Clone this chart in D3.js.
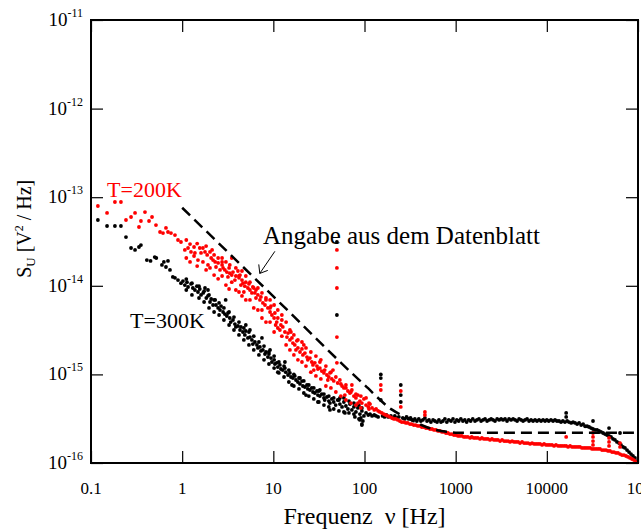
<!DOCTYPE html>
<html>
<head>
<meta charset="utf-8">
<script src="https://cdn.jsdelivr.net/npm/d3@7"></script>
<style>
  body { margin: 0; background: #fff; }
</style>
</head>
<body>
<svg id="chart" width="641" height="532"></svg>
<script>
'use strict';

// axis ticks
const xTickValues = [0.1, 1, 10, 100, 1000, 10000, 100000];
const xTickLabels = ['0.1', '1', '10', '100', '1000', '10000', '10^5'];
const yTickValues = [1e-16, 1e-15, 1e-14, 1e-13, 1e-12, 1e-11];
const yTickExps = ['-16', '-15', '-14', '-13', '-12', '-11'];

// datasheet curve [f Hz, S V^2/Hz]
const datasheet = [
  [1, 7.6e-14], [10, 7.6e-15], [100, 7.6e-16], [200, 4.0e-16], [300, 3.2e-16],
  [500, 2.5e-16], [800, 2.25e-16], [1000, 2.2e-16], [100000, 2.2e-16]
];

// T = 300 K measured spectrum [f Hz, S V^2/Hz]
const t300 = [
  [0.119, 5.53e-14], [0.150, 4.73e-14], [0.183, 4.73e-14], [0.213, 4.73e-14], [0.242, 3.55e-14],
  [0.275, 2.67e-14], [0.304, 2.54e-14], [0.336, 2.74e-14], [0.353, 2.88e-14], [0.41, 1.95e-14],
  [0.45, 1.91e-14], [0.50, 2.11e-14], [0.52, 2.06e-14], [0.60, 1.72e-14], [0.63, 1.86e-14],
  [0.664, 1.63e-14], [0.699, 1.91e-14], [0.735, 1.51e-14], [0.79, 1.26e-14], [0.834, 1.23e-14],
  [0.90, 1.16e-14], [0.97, 1.07e-14], [1.02, 1.13e-14], [1.07, 1.02e-14], [1.13, 1.10e-14],
  [1.11, 1.19e-14], [1.11, 8.97e-15], [1.28, 1.07e-14], [1.28, 7.88e-15], [1.53, 9.9e-15],
  [1.53, 7.28e-15], [1.74, 8.7e-15], [1.74, 6.56e-15], [1.97, 7.88e-15], [1.97, 5.62e-15],
  [2.24, 6.92e-15], [2.24, 5.06e-15], [2.54, 6.40e-15], [2.54, 4.68e-15], [2.87, 5.62e-15],
  [2.87, 4.11e-15], [3.27, 5.06e-15], [3.27, 3.61e-15], [3.70, 4.44e-15], [3.70, 3.17e-15],
  [4.2, 3.9e-15], [4.2, 2.79e-15], [4.75, 3.34e-15], [4.75, 2.45e-15], [5.4, 3.01e-15],
  [5.4, 2.15e-15], [6.1, 2.7e-15], [6.1, 1.89e-15], [6.95, 2.32e-15], [6.95, 1.66e-15],
  [7.9, 2.09e-15], [7.9, 1.46e-15], [8.95, 1.79e-15], [8.95, 1.31e-15], [10.2, 1.61e-15],
  [10.2, 1.18e-15], [11.5, 1.38e-15], [11.5, 1.04e-15], [13.1, 1.24e-15], [13.1, 9.35e-16],
  [14.8, 1.12e-15], [14.8, 8.21e-16], [16.8, 9.97e-16], [16.8, 7.4e-16], [19.1, 9.11e-16],
  [19.1, 6.85e-16], [21.6, 8.43e-16], [21.6, 6.17e-16], [24.5, 7.59e-16], [24.5, 5.7e-16],
  [27.8, 7.03e-16], [27.8, 5.28e-16], [31.6, 6.5e-16], [31.6, 4.88e-16], [35.9, 6.0e-16],
  [35.9, 4.51e-16], [40.6, 5.7e-16], [40.6, 4.29e-16], [46.0, 5.42e-16], [46.0, 4.07e-16],
  [52.4, 5.14e-16], [52.4, 3.87e-16], [59.4, 5.42e-16], [59.4, 3.77e-16], [67.5, 5.0e-16],
  [67.5, 3.67e-16], [76.5, 4.75e-16], [76.5, 3.57e-16], [86.9, 4.51e-16], [86.9, 3.14e-16],
  [93.6, 4.18e-16], [93.6, 2.75e-16],
  [1.16, 9.69e-15], [1.25, 1.05e-14], [1.31, 9.44e-15], [1.38, 8.97e-15], [1.45, 9.9e-15],
  [1.49, 8.51e-15], [1.56, 9.2e-15], [1.61, 7.88e-15], [1.70, 8.30e-15], [1.78, 9.44e-15],
  [1.84, 7.28e-15], [1.92, 7.7e-15], [1.92, 8.97e-15], [2.02, 6.56e-15], [2.08, 7.1e-15],
  [2.18, 6.07e-15], [2.30, 6.92e-15], [2.35, 6.07e-15], [2.48, 5.62e-15], [2.60, 5.33e-15],
  [2.67, 5.9e-15], [2.81, 5.06e-15], [2.94, 4.8e-15], [3.0, 6.92e-15], [3.09, 4.56e-15],
  [3.18, 4.93e-15], [3.33, 4.33e-15], [3.41, 3.90e-15], [3.61, 4.11e-15], [3.79, 3.7e-15],
  [3.88, 3.43e-15], [4.09, 3.52e-15], [4.31, 3.17e-15], [4.41, 3.43e-15], [4.64, 3.01e-15],
  [4.87, 2.79e-15], [4.99, 3.09e-15], [4.99, 3.61e-15], [5.26, 2.58e-15], [5.54, 2.64e-15],
  [5.54, 3.17e-15], [5.82, 2.45e-15], [5.96, 2.2e-15], [6.28, 2.32e-15], [6.61, 2.15e-15],
  [6.77, 1.99e-15], [7.13, 2.04e-15], [7.31, 1.84e-15], [7.5, 2.58e-15], [7.68, 1.89e-15],
  [8.1, 1.7e-15], [8.30, 1.79e-15], [8.72, 1.57e-15], [8.95, 1.7e-15], [9.2, 1.89e-15],
  [9.42, 1.53e-15], [9.65, 1.38e-15], [10.2, 1.46e-15], [10.4, 1.31e-15], [10.9, 1.35e-15],
  [11.2, 1.21e-15], [11.2, 1.06e-15], [11.8, 1.28e-15], [12.1, 1.15e-15], [12.7, 1.12e-15],
  [13.4, 1.18e-15], [13.4, 1.38e-15], [13.7, 1.06e-15], [14.5, 9.85e-16], [15.2, 1.04e-15],
  [15.6, 9.35e-16], [16.0, 7.59e-16], [16.4, 9.11e-16], [17.2, 9.6e-16], [17.7, 8.65e-16],
  [18.6, 8.21e-16], [19.6, 7.8e-16], [19.6, 9.11e-16], [20.6, 8.4e-16], [21.1, 7.4e-16],
  [22.2, 7.21e-16], [22.8, 5.85e-16], [23.4, 7.59e-16], [23.9, 6.85e-16], [25.2, 6.67e-16],
  [26.4, 7.03e-16], [27.2, 6.33e-16], [28.5, 6.17e-16], [30.1, 6.5e-16], [30.8, 5.85e-16],
  [30.8, 4.88e-16], [32.4, 5.7e-16], [32.4, 6.67e-16], [34.0, 6.0e-16], [35.9, 5.42e-16],
  [36.6, 5.14e-16], [38.7, 5.56e-16], [40.6, 5.0e-16], [41.8, 4.75e-16], [41.8, 3.97e-16],
  [43.8, 5.28e-16], [46.0, 4.88e-16], [48.3, 4.51e-16], [49.8, 3.12e-14], [49.8, 4.68e-15],
  [50.8, 5.14e-16], [53.7, 4.63e-16], [53.7, 5.42e-16], [56.7, 4.29e-16], [59.4, 4.88e-16],
  [61, 3.67e-16], [62.5, 4.4e-16], [65.8, 4.07e-16], [69.2, 4.63e-16], [72.7, 3.97e-16],
  [76.5, 4.29e-16], [78.5, 3.31e-16], [80.5, 3.77e-16], [84.6, 4.18e-16], [89.1, 3.57e-16],
  [89.1, 3.06e-16], [91.2, 3.22e-16], [93.6, 3.87e-16], [93.6, 2.68e-16], [96.0, 2.98e-16],
  [98.5, 3.40e-16], [104, 3.67e-16], [110, 3.48e-16], [115, 3.57e-16], [121, 3.40e-16],
  [128, 3.48e-16], [134, 3.40e-16], [141, 3.31e-16], [151, 1.0e-15], [151, 9.1e-16],
  [151, 5.14e-16], [158, 3.40e-16], [166, 3.31e-16], [174, 3.48e-16], [182, 3.31e-16],
  [195, 3.40e-16], [205, 3.22e-16], [215, 3.40e-16], [227, 3.22e-16], [238, 3.31e-16],
  [250, 7.59e-16], [250, 5.85e-16], [250, 4.88e-16], [263, 3.22e-16], [277, 3.14e-16],
  [290, 3.31e-16], [305, 3.14e-16], [320, 3.22e-16], [335, 3.06e-16], [357, 3.14e-16],
  [375, 2.98e-16], [394, 3.14e-16], [415, 2.98e-16], [437, 3.06e-16], [460, 3.22e-16],
  [485, 2.98e-16], [510, 3.06e-16], [535, 2.90e-16], [565, 3.06e-16], [592, 2.98e-16],
  [625, 2.90e-16], [655, 3.06e-16], [690, 2.90e-16], [725, 2.98e-16], [762, 3.14e-16],
  [800, 2.90e-16], [840, 3.06e-16], [890, 2.98e-16], [935, 3.14e-16], [982, 2.90e-16],
  [1030, 3.06e-16], [1080, 2.98e-16], [1140, 3.14e-16], [1200, 2.98e-16], [1260, 3.06e-16],
  [1320, 2.90e-16], [1390, 3.06e-16], [1460, 2.98e-16], [1540, 3.14e-16], [1630, 2.98e-16],
  [1710, 3.06e-16], [1800, 3.14e-16], [1900, 2.98e-16], [2000, 3.06e-16], [2100, 3.14e-16],
  [2210, 2.98e-16], [2330, 3.06e-16], [2450, 3.14e-16], [2570, 3.06e-16], [2700, 2.98e-16],
  [2850, 3.14e-16], [3000, 3.06e-16], [3150, 3.14e-16], [3310, 3.06e-16], [3480, 3.14e-16],
  [3660, 2.98e-16], [3850, 3.14e-16], [4050, 3.06e-16], [4270, 3.14e-16], [4490, 3.06e-16],
  [4720, 2.98e-16], [4960, 3.14e-16], [5220, 3.06e-16], [5490, 2.98e-16], [5770, 3.06e-16],
  [6070, 3.14e-16], [6380, 2.98e-16], [6710, 3.06e-16], [7060, 2.98e-16], [7430, 3.06e-16],
  [7800, 2.98e-16], [8220, 3.06e-16], [8640, 2.98e-16], [9090, 3.06e-16], [9560, 2.98e-16],
  [10000, 3.06e-16], [10500, 2.98e-16], [11100, 3.06e-16], [11700, 2.98e-16], [12300, 3.06e-16],
  [12900, 2.98e-16], [13600, 2.98e-16], [14300, 2.90e-16], [15000, 2.98e-16], [15800, 2.90e-16],
  [16300, 3.67e-16], [16300, 3.31e-16], [16700, 2.98e-16], [17500, 2.90e-16], [18500, 2.83e-16],
  [19400, 2.90e-16], [20400, 2.83e-16], [21500, 2.75e-16], [22600, 2.83e-16], [23800, 2.68e-16],
  [25000, 2.75e-16], [26300, 2.6e-16], [27700, 2.6e-16], [29100, 2.55e-16], [30600, 2.48e-16],
  [32100, 2.98e-16], [32100, 2.42e-16], [33800, 2.36e-16], [35600, 2.36e-16], [37400, 2.30e-16],
  [39300, 2.24e-16], [41400, 2.18e-16], [43500, 2.12e-16], [45700, 2.07e-16], [48100, 2.48e-16],
  [48100, 2.02e-16], [50600, 1.97e-16], [53200, 1.87e-16], [55900, 1.82e-16], [58800, 1.73e-16],
  [61900, 1.68e-16], [63500, 2.18e-16], [65100, 1.60e-16], [68500, 1.52e-16], [72000, 1.48e-16],
  [75800, 1.40e-16], [79700, 1.33e-16], [83800, 1.26e-16], [88100, 1.20e-16], [92700, 1.14e-16],
  [97500, 1.05e-16]
];

// T = 200 K measured spectrum [f Hz, S V^2/Hz]
const t200 = [
  [0.119, 7.96e-14], [0.150, 6.64e-14], [0.183, 8.83e-14], [0.213, 8.83e-14], [0.242, 5.53e-14],
  [0.275, 5.98e-14], [0.304, 6.64e-14], [0.336, 4.61e-14], [0.353, 5.39e-14], [0.391, 6.8e-14],
  [0.433, 5.39e-14], [0.467, 5.98e-14], [0.516, 4.85e-14], [0.572, 4.05e-14], [0.616, 3.94e-14],
  [0.664, 4.5e-14], [0.699, 4.05e-14], [0.754, 3.94e-14], [0.834, 3.74e-14], [0.90, 3.29e-14],
  [0.97, 3.12e-14], [1.07, 2.54e-14], [1.16, 2.67e-14], [1.25, 2.41e-14], [1.38, 2.35e-14],
  [1.11, 3.29e-14], [1.11, 2.06e-14], [1.22, 2.96e-14], [1.22, 1.86e-14], [1.35, 2.74e-14],
  [1.35, 2.17e-14], [1.46, 3.0e-14], [1.46, 1.67e-14], [1.69, 1.86e-14], [1.69, 2.67e-14],
  [1.83, 2.81e-14], [1.83, 1.51e-14], [2.02, 1.59e-14], [2.02, 2.41e-14], [2.24, 1.32e-14],
  [2.24, 2.23e-14], [2.48, 2.06e-14], [2.48, 1.2e-14], [2.74, 1.29e-14], [2.74, 1.86e-14],
  [3.02, 1.02e-14], [3.02, 1.86e-14], [3.27, 1.59e-14], [3.27, 9.2e-15], [3.50, 2.06e-14],
  [3.50, 1.10e-14], [3.88, 1.59e-14], [3.88, 8.97e-15], [4.2, 8.51e-15], [4.2, 1.29e-14],
  [4.53, 1.47e-14], [4.53, 7.68e-15], [4.99, 1.29e-14], [4.99, 6.92e-15], [5.54, 1.10e-14],
  [5.54, 6.92e-15], [6.1, 9.44e-15], [6.1, 5.62e-15], [6.77, 9.44e-15], [6.77, 5.33e-15],
  [7.5, 8.30e-15], [7.5, 4.33e-15], [8.3, 7.28e-15], [8.3, 3.9e-15], [9.2, 3.9e-15],
  [9.2, 5.62e-15], [10.2, 6.07e-15], [10.2, 3.01e-15], [11.2, 3.34e-15], [11.2, 5.33e-15],
  [12.4, 2.7e-15], [12.4, 4.68e-15], [13.8, 3.9e-15], [13.8, 2.15e-15], [15.2, 3.17e-15],
  [15.2, 1.89e-15], [16.8, 2.79e-15], [16.8, 1.66e-15], [18.6, 2.45e-15], [18.6, 1.46e-15],
  [20.6, 2.32e-15], [20.6, 1.38e-15], [22.8, 1.99e-15], [22.8, 1.24e-15], [25.8, 1.79e-15],
  [25.8, 1.06e-15], [29.3, 1.61e-15], [29.3, 9.6e-16], [33.2, 1.46e-15], [33.2, 8.9e-16],
  [37.7, 1.24e-15], [37.7, 7.4e-16], [42.8, 1.06e-15], [42.8, 7.03e-16], [48.5, 9.35e-16],
  [48.5, 6.33e-16], [55, 7.8e-16], [55, 5.7e-16], [62.5, 7.03e-16], [62.5, 5.14e-16],
  [71, 6.33e-16], [71, 4.75e-16], [80.5, 6.0e-16], [80.5, 4.51e-16], [91.2, 5.7e-16],
  [91.2, 4.18e-16], [112, 4.75e-16], [112, 4.07e-16],
  [1.49, 1.95e-14], [1.56, 2.67e-14], [1.61, 2.35e-14], [1.78, 2.41e-14], [1.88, 2.23e-14],
  [1.92, 1.72e-14], [2.08, 2.06e-14], [2.13, 2.54e-14], [2.18, 1.95e-14], [2.3, 1.86e-14],
  [2.35, 1.63e-14], [2.48, 1.81e-14], [2.60, 1.51e-14], [2.74, 1.72e-14], [2.74, 2.06e-14],
  [2.81, 1.59e-14], [2.94, 1.51e-14], [3.09, 1.43e-14], [3.18, 1.26e-14], [3.33, 1.39e-14],
  [3.33, 1.72e-14], [3.50, 1.32e-14], [3.61, 1.43e-14], [3.79, 1.16e-14], [3.88, 1.29e-14],
  [4.09, 1.47e-14], [4.2, 1.23e-14], [4.31, 1.32e-14], [4.41, 1.02e-14], [4.53, 1.16e-14],
  [4.64, 1.07e-14], [4.75, 8.51e-15], [4.87, 9.9e-15], [4.99, 1.10e-14], [5.26, 9.44e-15],
  [5.4, 1.05e-14], [5.54, 8.97e-15], [5.82, 8.30e-15], [5.96, 9.69e-15], [6.28, 8.30e-15],
  [6.45, 7.28e-15], [6.45, 8.97e-15], [6.77, 7.88e-15], [7.13, 6.92e-15], [7.31, 7.48e-15],
  [7.5, 5.33e-15], [7.68, 6.40e-15], [8.1, 6.07e-15], [8.30, 6.92e-15], [8.72, 5.62e-15],
  [9.2, 5.06e-15], [9.2, 6.92e-15], [9.42, 5.9e-15], [9.65, 4.68e-15], [10.2, 4.33e-15],
  [10.4, 4.93e-15], [10.6, 3.61e-15], [10.9, 3.90e-15], [11.2, 4.33e-15], [11.8, 3.17e-15],
  [12.1, 3.61e-15], [12.4, 4.11e-15], [12.7, 3.43e-15], [13.4, 3.01e-15], [14.1, 2.64e-15],
  [14.5, 2.93e-15], [15.2, 2.45e-15], [15.6, 3.01e-15], [16.0, 2.58e-15], [16.4, 2.26e-15],
  [17.2, 2.15e-15], [17.7, 1.89e-15], [18.1, 2.39e-15], [18.6, 1.99e-15], [19.6, 1.79e-15],
  [20.6, 1.94e-15], [21.1, 1.66e-15], [21.6, 2.15e-15], [22.2, 1.74e-15], [23.4, 1.57e-15],
  [23.9, 1.46e-15], [25.2, 1.53e-15], [26.4, 1.38e-15], [27.2, 1.28e-15], [27.8, 1.12e-15],
  [28.5, 1.35e-15], [30.1, 1.24e-15], [30.8, 1.15e-15], [32.4, 1.18e-15], [32.4, 1.38e-15],
  [34.0, 1.09e-15], [35.9, 1.04e-15], [36.6, 1.12e-15], [38.7, 9.85e-16], [39.6, 8.65e-16],
  [40.6, 9.35e-16], [41.8, 1.04e-15], [43.8, 8.9e-16], [45.1, 1.12e-15], [46.0, 8.43e-16],
  [49.8, 2.54e-14], [49.8, 1.59e-14], [49.8, 9.44e-15], [49.8, 2.64e-15], [49.8, 1.35e-15],
  [50.8, 8.0e-16], [53.7, 8.65e-16], [56.7, 7.4e-16], [59.4, 7.03e-16], [60.9, 5.85e-16],
  [62.5, 7.59e-16], [65.8, 6.5e-16], [69.2, 6.17e-16], [72.7, 6.67e-16], [72.7, 7.59e-16],
  [76.5, 5.7e-16], [80.5, 5.42e-16], [84.6, 5.85e-16], [84.6, 4.75e-16], [89.1, 5.0e-16],
  [93.6, 4.75e-16], [98.5, 5.28e-16], [104, 4.51e-16], [104, 5.42e-16], [110, 4.29e-16],
  [115, 4.63e-16], [121, 4.18e-16], [128, 3.97e-16], [134, 4.07e-16], [141, 3.87e-16],
  [147, 3.77e-16], [151, 7.59e-16], [151, 6.67e-16], [155, 3.67e-16], [163, 3.57e-16],
  [171, 3.48e-16], [180, 3.40e-16], [190, 3.31e-16], [200, 3.22e-16], [210, 3.14e-16],
  [221, 3.14e-16], [232, 3.06e-16], [244, 2.98e-16], [250, 6.5e-16], [250, 4.29e-16],
  [256, 2.90e-16], [270, 2.90e-16], [284, 2.83e-16], [298, 2.83e-16], [315, 2.75e-16],
  [330, 2.75e-16], [347, 2.68e-16], [365, 2.68e-16], [384, 2.62e-16], [405, 2.62e-16],
  [425, 2.55e-16], [448, 2.55e-16], [460, 3.77e-16], [460, 3.48e-16], [472, 2.48e-16],
  [496, 2.48e-16], [522, 2.42e-16], [550, 2.42e-16], [578, 2.36e-16], [608, 2.36e-16],
  [640, 2.30e-16], [672, 2.30e-16], [707, 2.24e-16], [744, 2.24e-16], [782, 2.18e-16],
  [822, 2.18e-16], [865, 2.12e-16], [910, 2.12e-16], [957, 2.07e-16], [1006, 2.07e-16],
  [1060, 2.02e-16], [1110, 2.02e-16], [1170, 2.02e-16], [1230, 1.97e-16], [1290, 1.97e-16],
  [1360, 1.97e-16], [1440, 1.92e-16], [1500, 1.97e-16], [1580, 1.92e-16], [1660, 1.92e-16],
  [1750, 1.92e-16], [1850, 1.87e-16], [1940, 1.92e-16], [2040, 1.87e-16], [2150, 1.87e-16],
  [2260, 1.87e-16], [2380, 1.82e-16], [2500, 1.87e-16], [2630, 1.82e-16], [2770, 1.82e-16],
  [2910, 1.82e-16], [3070, 1.77e-16], [3230, 1.82e-16], [3400, 1.77e-16], [3570, 1.77e-16],
  [3760, 1.77e-16], [3950, 1.73e-16], [4160, 1.77e-16], [4370, 1.73e-16], [4600, 1.73e-16],
  [4840, 1.73e-16], [5080, 1.68e-16], [5350, 1.73e-16], [5630, 1.68e-16], [5920, 1.68e-16],
  [6220, 1.68e-16], [6550, 1.64e-16], [6890, 1.68e-16], [7250, 1.64e-16], [7620, 1.64e-16],
  [8010, 1.64e-16], [8430, 1.64e-16], [8870, 1.60e-16], [9330, 1.64e-16], [9810, 1.60e-16],
  [10300, 1.60e-16], [10800, 1.60e-16], [11400, 1.60e-16], [12000, 1.56e-16], [12600, 1.60e-16],
  [13300, 1.56e-16], [14000, 1.56e-16], [14700, 1.56e-16], [15500, 1.56e-16], [16300, 1.56e-16],
  [16300, 1.97e-16], [17100, 1.52e-16], [18000, 1.56e-16], [18900, 1.52e-16], [19900, 1.52e-16],
  [20900, 1.52e-16], [22000, 1.52e-16], [23100, 1.52e-16], [24300, 1.48e-16], [25600, 1.48e-16],
  [26900, 1.48e-16], [28300, 1.48e-16], [29800, 1.48e-16], [31300, 1.44e-16], [32100, 2.18e-16],
  [32100, 1.97e-16], [32100, 1.77e-16], [32100, 1.60e-16], [32900, 1.44e-16], [34700, 1.44e-16],
  [36500, 1.44e-16], [38300, 1.44e-16], [40300, 1.40e-16], [42400, 1.40e-16], [44600, 1.40e-16],
  [46900, 1.37e-16], [48100, 1.92e-16], [48100, 1.73e-16], [48100, 1.56e-16], [49300, 1.37e-16],
  [51900, 1.33e-16], [54500, 1.33e-16], [57400, 1.30e-16], [60300, 1.30e-16], [63500, 1.26e-16],
  [63500, 1.68e-16], [63500, 1.52e-16], [66800, 1.23e-16], [70200, 1.23e-16], [73900, 1.20e-16],
  [77700, 1.17e-16], [81700, 1.14e-16], [85900, 1.11e-16], [90400, 1.08e-16], [95100, 1.03e-16]
];

const W = 641, H = 532;
const margin = { left: 91, right: 3, top: 20, bottom: 69 };
const serif = (sel) => sel.style('font-family', 'Liberation Serif');

const $svg = d3.select('#chart');

const x = d3.scaleLog().domain([0.1, 1e5]).range([margin.left, W - margin.right]);
const y = d3.scaleLog().domain([1e-16, 1e-11]).range([H - margin.bottom, margin.top]);

$svg.append('clipPath').attr('id', 'plotClip')
  .append('rect')
  .attr('x', x.range()[0]).attr('y', y.range()[1])
  .attr('width', x.range()[1] - x.range()[0])
  .attr('height', y.range()[0] - y.range()[1]);

const $plot = $svg.append('g').attr('clip-path', 'url(#plotClip)');

// measured points
const drawDots = (data, color) => {
  $plot.append('g').selectAll('circle')
    .data(data)
    .enter()
    .append('circle')
    .attr('cx', (d) => x(d[0]))
    .attr('cy', (d) => y(d[1]))
    .attr('r', 1.9)
    .attr('fill', color);
};
drawDots(t300, '#000');
drawDots(t200, '#ff0000');

// datasheet line
const line = d3.line()
  .x((d) => x(d[0]))
  .y((d) => y(d[1]))
  .curve(d3.curveMonotoneX);
$plot.append('path')
  .datum(datasheet)
  .attr('d', line)
  .attr('fill', 'none')
  .attr('stroke', '#000')
  .attr('stroke-width', 2.5)
  .attr('stroke-dasharray', '11,6');

// axes, ticks inward on all four sides
const tickLen = 12;
const axisBottom = d3.axisBottom(x).tickValues(xTickValues).tickSize(-tickLen).tickFormat('');
const axisTop = d3.axisTop(x).tickValues(xTickValues).tickSize(-tickLen).tickFormat('');
const axisLeft = d3.axisLeft(y).tickValues(yTickValues).tickSize(-tickLen).tickFormat('');
const axisRight = d3.axisRight(y).tickValues(yTickValues).tickSize(-tickLen).tickFormat('');

const styleAxis = (g) => {
  g.select('.domain').remove();
  g.selectAll('.tick line').attr('stroke', '#000').attr('stroke-width', 1.2);
};
$svg.append('g').attr('transform', `translate(0,${y.range()[0]})`).call(axisBottom).call(styleAxis);
$svg.append('g').attr('transform', `translate(0,${y.range()[1]})`).call(axisTop).call(styleAxis);
$svg.append('g').attr('transform', `translate(${x.range()[0]},0)`).call(axisLeft).call(styleAxis);
$svg.append('g').attr('transform', `translate(${x.range()[1]},0)`).call(axisRight).call(styleAxis);

// frame
$svg.append('rect')
  .attr('x', x.range()[0]).attr('y', y.range()[1])
  .attr('width', x.range()[1] - x.range()[0])
  .attr('height', y.range()[0] - y.range()[1])
  .attr('fill', 'none')
  .attr('stroke', '#000')
  .attr('stroke-width', 2);

// x tick labels
const $xl = $svg.append('g').selectAll('text')
  .data(xTickValues)
  .enter()
  .append('text')
  .call(serif)
  .attr('x', (d) => x(d))
  .attr('y', y.range()[0] + 31)
  .attr('text-anchor', 'middle')
  .attr('font-size', 17);
$xl.each(function (d, i) {
  const lbl = xTickLabels[i];
  const $t = d3.select(this);
  if (lbl.indexOf('^') > 0) {
    const parts = lbl.split('^');
    $t.append('tspan').text(parts[0]);
    $t.append('tspan').attr('dy', -8).attr('font-size', 11).text(parts[1]);
  } else {
    $t.text(lbl);
  }
});

// y tick labels
const $yl = $svg.append('g').selectAll('text')
  .data(yTickValues)
  .enter()
  .append('text')
  .call(serif)
  .attr('x', x.range()[0] - 8)
  .attr('y', (d) => y(d) + 6)
  .attr('text-anchor', 'end')
  .attr('font-size', 19);
$yl.append('tspan').text('10');
$yl.append('tspan').attr('dy', -9).attr('font-size', 12).text((d, i) => yTickExps[i]);

// axis titles
$svg.append('text')
  .call(serif)
  .attr('x', x(100))
  .attr('y', H - 8)
  .attr('text-anchor', 'middle')
  .attr('font-size', 24)
  .text('Frequenz \u00a0\u03bd [Hz]');

const $ytitle = $svg.append('text')
  .call(serif)
  .attr('transform', `translate(31,${y(4.4e-14)}) rotate(-90)`)
  .attr('text-anchor', 'middle')
  .attr('font-size', 20);
$ytitle.append('tspan').text('S');
$ytitle.append('tspan').attr('dy', 4).attr('font-size', 13).text('U');
$ytitle.append('tspan').attr('dy', -4).text(' [V');
$ytitle.append('tspan').attr('dy', -8).attr('font-size', 12).text('2');
$ytitle.append('tspan').attr('dy', 8).text(' / Hz]');

// annotations
$svg.append('text')
  .call(serif)
  .attr('x', x(0.15)).attr('y', y(1.0e-13))
  .attr('font-size', 22)
  .attr('fill', '#ff0000')
  .text('T=200K');

$svg.append('text')
  .call(serif)
  .attr('x', x(0.268)).attr('y', y(3.35e-15))
  .attr('font-size', 22)
  .attr('fill', '#000')
  .text('T=300K');

$svg.append('text')
  .call(serif)
  .attr('x', x(7.7)).attr('y', y(3.0e-14))
  .attr('font-size', 25)
  .attr('fill', '#000')
  .text('Angabe aus dem Datenblatt');

// arrow to the datasheet curve
const tip = [x(7.1), y(1.38e-14)];
const tail = [x(10.4), y(2.45e-14)];
$svg.append('line')
  .attr('x1', tail[0]).attr('y1', tail[1])
  .attr('x2', tip[0]).attr('y2', tip[1])
  .attr('stroke', '#000').attr('stroke-width', 1);
$svg.append('path')
  .attr('d', `M${tip[0] - 1},${tip[1] - 9} L${tip[0]},${tip[1]} L${tip[0] + 8},${tip[1] - 3}`)
  .attr('fill', 'none')
  .attr('stroke', '#000').attr('stroke-width', 1);
</script>
</body>
</html>
